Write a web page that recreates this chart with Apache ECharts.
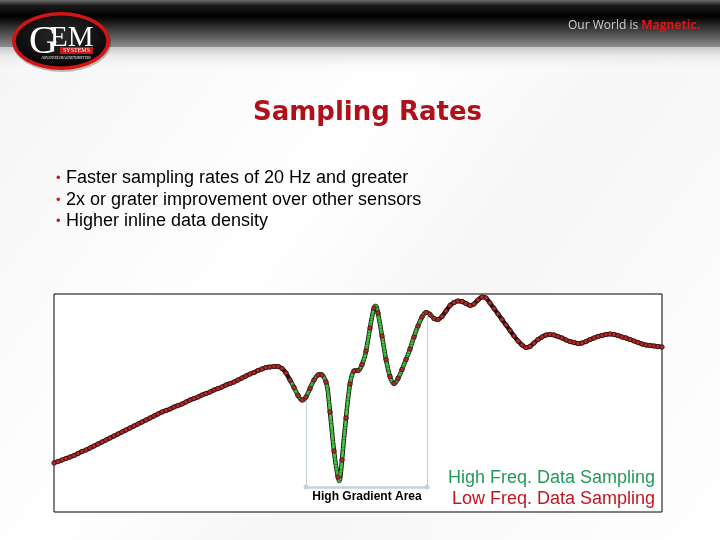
<!DOCTYPE html>
<html>
<head>
<meta charset="utf-8">
<script src="https://cdn.jsdelivr.net/npm/echarts@6/dist/echarts.min.js"></script>
<style>
html,body{margin:0;padding:0;background:#fff;}
#c{width:720px;height:540px;}
</style>
</head>
<body>
<div id="c"></div>
<script>
// ---- data (distance units along the survey line, field in relative nT) ----
var lowFreqStep = 4;      // low frequency sample spacing
var lowFreqStart = 0;
var lowFreqValues = [
49,50.5,52,53.5,55,56.5,58.5,60.5,62,64,66,68,70,72,74,76,78,80,82,84,86,88,90,92,94,96,98,100,101.5,103,
105,106.5,108,110,112,113.5,115,117,118.5,120,122,123.5,125,127,128.5,130,132,134,136,138,139.5,141.5,143,144.5,145,145.5,145.5,143.5,139,132,
124.5,116.5,112,115,123.5,132,137,137,130,100,61,35,52,94,128,141,141.5,147.5,161,184,204,199,176,152.5,135.5,128.5,133.5,142.5,152.5,163,
175,186,195,199.5,197.5,193.5,192.5,195.5,201,206.5,209.5,211,210.5,208.5,206.5,208,212,215,214,209,203.5,198,192.5,187,181.5,176,171,167,164.5,165.5,
169,172.5,175,177,177.5,177,175.5,174,172,170.5,169.5,168.5,169,170.5,172.5,174,175.5,176.5,177.5,178,177.5,176.5,175,174,172.5,171,169.5,168,167,166.5,
166,165.5,165
];
var highFreqStep = 1;     // high frequency sample spacing
var highFreqStart = 238;
var highFreqValues = [
128.5,126.5,124.5,122.5,120.5,118.5,116.5,115,113.5,112.5,112,112,112.5,113.5,115,117,119,121,123.5,126,
128,130,132,133.5,135,136,137,137.5,138,137.5,137,136,134.5,132.5,130,126,120,110,100,90,
80,70,61,53,46,40,35,31,33,41,52,63,74,84,94,104,113,121,128,133.5,
137,139.5,141,141.5,141.5,141.5,141.5,142,143,145,147.5,150,153,156,161,166.5,172,178,184,190,
195,200,204,206,206,203.5,199,193.5,188,182,176,170,164,158,152.5,147.5,143,139,135.5,132.5,
130.5,129,128.5,129,130,131.5,133.5,135.5,137.5,140,142.5,145,147.5,150,152.5,155,157.5,160,163,166,
169,172,175,178,181,183.5,186,188.5,191,193,195,196.5,198,199,199.5,199.5,199,198.5,197.5,196.5,
195.5,194.5,193.5,193,192.5
];
var gradientAreaStart = 252;
var gradientAreaEnd = 373;
var gradientLeftTop = 112;
var gradientRightTop = 197;
var gradientBase = 25;

var bullets = [
  'Faster sampling rates of 20 Hz and greater',
  '2x or grater improvement over other sensors',
  'Higher inline data density'
];
var titleText = 'Sampling Rates';
var highLabel = 'High Freq. Data Sampling';
var lowLabel = 'Low Freq. Data Sampling';
var areaLabel = 'High Gradient Area';

// ---- build series data ----
var lowData = lowFreqValues.map(function(v,i){return [lowFreqStart + i*lowFreqStep, v];});
var highData = highFreqValues.map(function(v,i){return [highFreqStart + i*highFreqStep, v];});
var highEnd = highData[highData.length-1][0];
var outline = lowData.filter(function(p){return p[0] < highFreqStart || p[0] > highEnd;})
  .concat(highData).sort(function(a,b){return a[0]-b[0];});

var chart = echarts.init(document.getElementById('c'), null, {renderer:'canvas'});

var graphics = [
  // slide background
  {type:'rect', shape:{x:0,y:0,width:720,height:540}, style:{fill:new echarts.graphic.LinearGradient(0,0,1,1,[{offset:0,color:'#f4f4f4'},{offset:0.4,color:'#ffffff'},{offset:0.6,color:'#f6f6f6'},{offset:1,color:'#ffffff'}])}, z:-10},
  // header bar
  {type:'rect', shape:{x:0,y:0,width:720,height:47}, style:{fill:new echarts.graphic.LinearGradient(0,0,0,1,[{offset:0,color:'#6a6a6a'},{offset:0.12,color:'#1a1a1a'},{offset:0.35,color:'#000'},{offset:1,color:'#8c8c8c'}])}, z:-9},
  {type:'rect', shape:{x:0,y:47,width:720,height:28}, style:{fill:new echarts.graphic.LinearGradient(0,0,0,1,[{offset:0,color:'#c8c8c8'},{offset:0.3,color:'#e8e8e8'},{offset:1,color:'rgba(255,255,255,0)'}])}, z:-9},
  // logo
  {type:'circle', x:62, y:43, scaleX:1.69, shape:{cx:0,cy:0,r:29}, style:{fill:'rgba(0,0,0,0.25)'}, z:1},
  {type:'circle', x:61, y:41, scaleX:1.69, shape:{cx:0,cy:0,r:29}, style:{fill:'#d41414'}, z:2},
  {type:'circle', x:61, y:41, scaleX:1.78, shape:{cx:0,cy:0,r:25.5}, style:{fill:new echarts.graphic.RadialGradient(0.5,0.4,0.7,[{offset:0,color:'#2a2a2a'},{offset:1,color:'#000'}])}, z:3},
  {type:'text', x:29, y:42, style:{text:'G', font:'40px "Liberation Serif"', fill:'#fff', textVerticalAlign:'middle'}, z:4},
  {type:'text', x:50, y:38, style:{text:'EM', font:'29px "Liberation Serif"', fill:'#fff', textVerticalAlign:'middle'}, z:4},
  {type:'rect', shape:{x:60,y:47,width:33,height:7}, style:{fill:'#c81818'}, z:4},
  {type:'text', x:76.5, y:50.8, style:{text:'SYSTEMS', font:'6px "Liberation Serif"', fill:'#fff', textAlign:'center', textVerticalAlign:'middle'}, z:5},
  {type:'text', x:66, y:58, style:{text:'ADVANCED MAGNETOMETERS', font:'3.4px "Liberation Serif"', fill:'#fff', textAlign:'center', textVerticalAlign:'middle'}, z:5},
  // tagline
  {type:'text', x:568, y:26, style:{rich:{a:{font:'12px "Open Sans"', fill:'#cfcfcf'}, b:{font:'bold 12px "Open Sans"', fill:'#e01515'}}, text:'{a|Our World is }{b|Magnetic.}', textVerticalAlign:'middle'}, z:4},
  // title
  {type:'text', x:367.5, y:113, style:{text:titleText, font:'bold 26px "DejaVu Sans"', fill:'#b0101a', textAlign:'center', textVerticalAlign:'middle'}, z:4},
  // legend texts
  {type:'text', x:655, y:478, style:{text:highLabel, font:'18px "Liberation Sans"', fill:'#22995a', textAlign:'right', textVerticalAlign:'middle'}, z:20},
  {type:'text', x:655, y:499, style:{text:lowLabel, font:'18px "Liberation Sans"', fill:'#c2151d', textAlign:'right', textVerticalAlign:'middle'}, z:20},
  {type:'text', x:367, y:497, style:{text:areaLabel, font:'bold 12px "Liberation Sans"', fill:'#000', textAlign:'center', textVerticalAlign:'middle'}, z:20}
];
var bulletY = [178, 200, 221];
bullets.forEach(function(b,i){
  graphics.push({type:'text', x:56, y:bulletY[i], style:{text:'•', font:'13px "Liberation Sans"', fill:'#c41a1a', textVerticalAlign:'middle'}, z:4});
  graphics.push({type:'text', x:66, y:bulletY[i], style:{text:b, font:'18px "Liberation Sans"', fill:'#000', textVerticalAlign:'middle'}, z:4});
});

var bracketColor = '#c3d3da';
chart.setOption({
  animation:false,
  backgroundColor:'transparent',
  graphic: graphics,
  grid:{left:54, right:58, top:294, bottom:28, show:true, backgroundColor:'#fff', borderColor:'#000', borderWidth:1},
  xAxis:{type:'value', min:0, max:608, show:false},
  yAxis:{type:'value', min:0, max:218, show:false},
  series:[
    {type:'line', name:'outline', data:outline, symbol:'none', smooth:0.2, lineStyle:{color:'#1c130f', width:4.5}, z:2,
     markLine:{silent:true, symbol:'none', label:{show:false}, lineStyle:{color:bracketColor, width:1.2, type:'solid'},
       data:[
         [{coord:[gradientAreaStart, gradientLeftTop]},{coord:[gradientAreaStart, gradientBase]}],
         [{coord:[gradientAreaEnd, gradientRightTop]},{coord:[gradientAreaEnd, gradientBase]}],
         [{coord:[gradientAreaStart, gradientBase], symbol:'circle', symbolSize:5, lineStyle:{width:2.5}},{coord:[gradientAreaEnd, gradientBase], symbol:'circle', symbolSize:5}]
       ]}},
    {type:'line', name:highLabel, data:highData, symbol:'circle', symbolSize:3, showAllSymbol:true,
     itemStyle:{color:'#4fd24f', borderColor:'#1f6a1f', borderWidth:0.6},
     lineStyle:{color:'#44cc44', width:2.6}, z:3},
    {type:'line', name:lowLabel, data:lowData, symbol:'circle', symbolSize:4.5, showAllSymbol:true,
     itemStyle:{color:'#b02a2a', borderColor:'#3a1010', borderWidth:0.8},
     lineStyle:{width:0, opacity:0}, z:4}
  ]
});
</script>
</body>
</html>
